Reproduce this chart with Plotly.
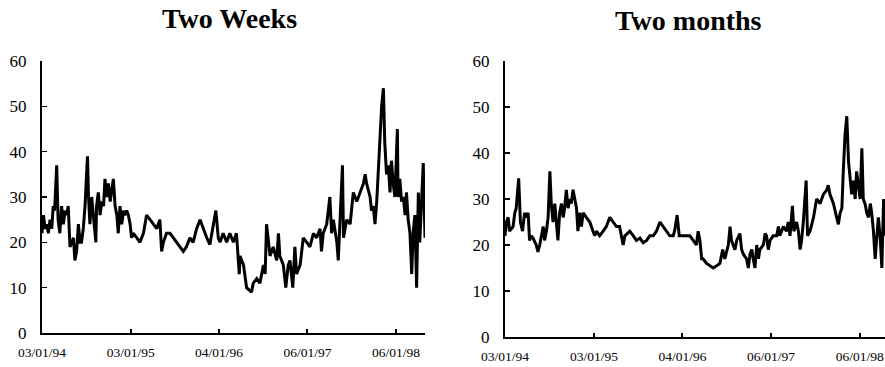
import plotly.graph_objects as go

# Trading-day index (0 = 03/01/94) and implied volatility readings
weeks_day = [0, 4, 9, 13, 18, 23, 28, 32, 36, 42, 46, 51, 56, 61, 66, 71, 75, 80, 85, 90,
             94, 99, 104, 109, 113, 118, 123, 130, 133, 137, 142, 147, 154, 156, 161, 166, 171, 176, 180, 185,
             190, 195, 200, 204, 209, 214, 218, 223, 228, 233, 237, 242, 247, 252, 256, 261, 271, 280, 290, 299,
             309, 318, 328, 337, 342, 347, 356, 366, 375, 385, 394, 404, 413, 423, 432, 442, 452, 461, 471, 480,
             490, 497, 504, 509, 518, 528, 537, 547, 556, 564, 566, 576, 585, 599, 604, 614, 623, 633, 638, 642,
             652, 661, 671, 676, 680, 690, 697, 704, 709, 717, 723, 728, 738, 747, 757, 766, 776, 785, 795, 799,
             804, 814, 823, 828, 833, 843, 847, 852, 859, 862, 871, 881, 890, 900, 909, 919, 924, 928, 938, 942,
             947, 952, 957, 964, 971, 976, 980, 985, 990, 995, 999, 1004, 1009, 1016, 1018, 1023, 1028, 1033, 1038, 1042,
             1047, 1052, 1057, 1061, 1066, 1071, 1076, 1080, 1085, 1090, 1095]
weeks_vol = [22, 26, 23, 24, 22, 25, 23, 28, 27, 37, 25, 22, 28, 24, 27, 26, 28, 19, 20, 21,
             16, 18, 24, 20, 20, 23, 28, 39, 30, 24, 30, 25, 20, 28, 31, 26, 29, 28, 34, 30,
             33, 29, 32, 34, 28, 26, 22, 28, 24, 27, 26, 27, 26, 24, 21, 22, 21, 20, 22, 26,
             25, 24, 23, 25, 18, 20, 22, 22, 21, 20, 19, 18, 19, 21, 20, 23, 25, 23, 21, 19.5,
             24, 27, 21, 20, 22, 20, 22, 20, 22, 13, 17, 15, 10, 9, 11, 12, 11, 15, 13, 24,
             17, 19, 16, 22, 17, 15, 10, 15, 16, 10, 19, 13, 15, 21, 20, 19, 22, 21, 23, 18,
             22, 24, 30, 22, 25, 20, 16, 24, 37, 21, 25, 24, 31, 29, 31, 33, 35, 33, 30, 27,
             28, 24, 29, 40, 50, 54, 42, 35, 37, 31, 38, 33, 30, 45, 30, 34, 29, 30, 26, 31,
             25, 22, 13, 22, 26, 10, 31, 20, 28, 37.5, 21]

months_day = [0, 4, 9, 13, 23, 28, 32, 39, 44, 50, 56, 61, 66, 70, 75, 80, 89, 94, 99, 109,
              113, 118, 123, 128, 132, 137, 142, 147, 151, 156, 161, 166, 170, 175, 180, 185, 189, 194, 199, 204,
              208, 213, 218, 223, 232, 242, 251, 256, 261, 270, 280, 289, 299, 308, 318, 327, 337, 342, 356, 366,
              375, 385, 394, 404, 413, 423, 432, 442, 451, 461, 470, 480, 485, 491, 497, 504, 518, 527, 537, 546,
              551, 556, 561, 565, 575, 585, 594, 604, 613, 621, 627, 637, 642, 646, 651, 656, 661, 670, 675, 680,
              689, 694, 699, 704, 708, 713, 718, 723, 727, 737, 742, 746, 751, 756, 765, 775, 780, 784, 794, 803,
              808, 813, 820, 824, 832, 837, 842, 846, 851, 859, 863, 870, 880, 889, 899, 908, 918, 922, 927, 937,
              946, 951, 956, 961, 965, 970, 975, 980, 984, 989, 994, 999, 1003, 1008, 1013, 1018, 1022, 1027, 1032, 1037,
              1042, 1046, 1051, 1056, 1061, 1065, 1070, 1075, 1080, 1084]
months_vol = [22, 25, 26, 23, 24, 27, 28, 34.5, 25, 23, 27, 26, 27, 21, 22, 21.5, 20, 18.5, 20, 24,
              21, 23, 26, 36, 29, 25, 29, 24, 21, 27, 29, 26, 28, 32, 28, 30, 29, 32, 30, 28,
              23, 27, 24, 27, 26, 25, 23, 22, 23, 22, 23, 24, 26, 25, 24, 24, 20, 22, 23, 22,
              21, 21.5, 20.5, 21, 22, 22, 23, 25, 24, 23, 22, 22, 23.5, 26.5, 22, 22, 22, 22, 21, 20,
              23, 21, 17, 17, 16, 15.5, 15, 15.5, 16, 19, 17, 20, 24, 21, 20, 19, 21, 22.5, 19, 18,
              17, 15, 18, 19, 17, 15, 20, 17, 19, 20, 22.5, 22, 19, 21, 22, 22, 24, 22, 24, 23,
              25, 22, 28.5, 23, 25, 23, 19, 21, 25, 34, 22, 23, 26, 30, 29, 31, 32, 33, 31, 29,
              26, 24.5, 27, 28, 36, 44, 48, 38, 35, 31, 34, 30, 36, 33, 30, 41, 30, 29, 27, 26,
              29, 27, 23, 17, 23, 26, 22, 15, 30, 22]

tick_days = [0, 254, 506, 759, 1012]
tick_labels = ["03/01/94", "03/01/95", "04/01/96", "06/01/97", "06/01/98"]
y_ticks = [0, 10, 20, 30, 40, 50, 60]
titles = ["Two Weeks", "Two months"]

W, H = 885, 367
FONT = "Liberation Serif"

fig = go.Figure()
fig.add_trace(go.Scatter(x=weeks_day, y=weeks_vol, mode="lines",
                         line=dict(color="black", width=3), xaxis="x", yaxis="y",
                         showlegend=False, hoverinfo="skip"))
fig.add_trace(go.Scatter(x=months_day, y=months_vol, mode="lines",
                         line=dict(color="black", width=3), xaxis="x2", yaxis="y2",
                         showlegend=False, hoverinfo="skip"))

def xax(dom, rng, anchor):
    return dict(domain=dom, range=rng, anchor=anchor, showgrid=False, zeroline=False,
                showline=True, linecolor="black", linewidth=2, automargin=False,
                tickmode="array", tickvals=tick_days, ticktext=tick_labels,
                ticks="inside", ticklen=4, tickwidth=2, tickcolor="black",
                tickfont=dict(family=FONT, size=13.5, color="black"),
                ticklabelstandoff=6, fixedrange=True)

def yax(dom, anchor):
    return dict(domain=dom, range=[0, 60], anchor=anchor, showgrid=False, zeroline=False,
                showline=True, linecolor="black", linewidth=2, automargin=False,
                tickmode="array", tickvals=y_ticks,
                ticks="inside", ticklen=5, tickwidth=1.5, tickcolor="black",
                tickfont=dict(family=FONT, size=17, color="black"),
                ticklabelstandoff=10, fixedrange=True)

fig.update_layout(
    width=W, height=H,
    margin=dict(l=0, r=0, t=0, b=0, autoexpand=False),
    paper_bgcolor="white", plot_bgcolor="white",
    xaxis=xax([42 / W, 425 / W], [0, 1095], "y"),
    yaxis=yax([1 - 333 / H, 1 - 61 / H], "x"),
    xaxis2=xax([505 / W, 1.0], [0, 1084], "y2"),
    yaxis2=yax([1 - 337 / H, 1 - 61 / H], "x2"),
    annotations=[
        dict(text="<b>" + titles[0] + "</b>", x=229 / W, y=1 - 18 / H, xref="paper", yref="paper",
             xanchor="center", yanchor="middle", showarrow=False,
             font=dict(family=FONT, size=28, color="black")),
        dict(text="<b>" + titles[1] + "</b>", x=688 / W, y=1 - 20 / H, xref="paper", yref="paper",
             xanchor="center", yanchor="middle", showarrow=False,
             font=dict(family=FONT, size=28, color="black")),
    ],
)

fig.write_html("out.html", config={"displayModeBar": False, "staticPlot": True},
               post_script="document.body.style.margin='0';document.body.style.overflow='hidden';")
